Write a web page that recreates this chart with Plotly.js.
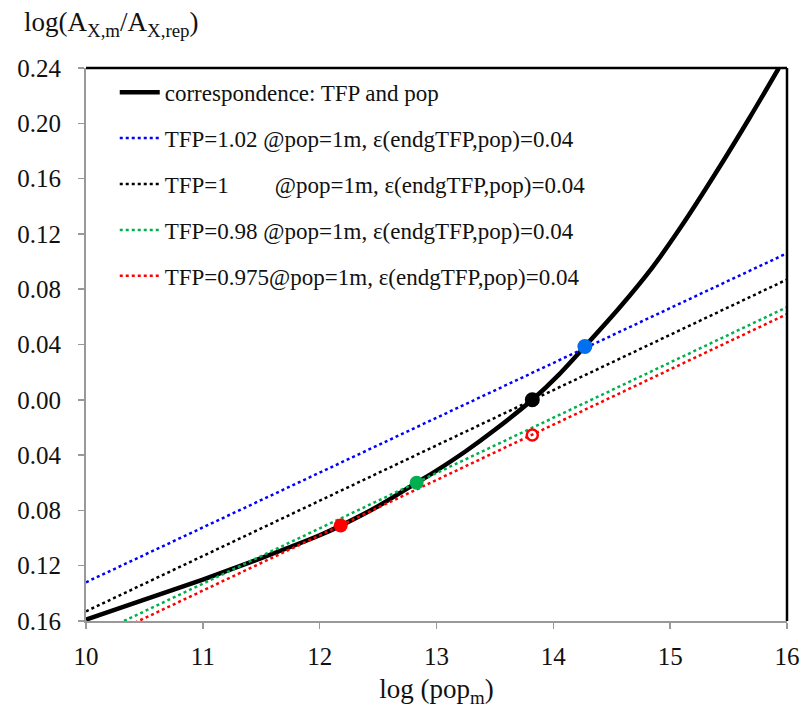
<!DOCTYPE html>
<html>
<head>
<meta charset="utf-8">
<script src="https://cdn.plot.ly/plotly-3.0.1.min.js"></script>
<style>
html,body{margin:0;padding:0;background:#fff;}
#chart{width:804px;height:719px;}
</style>
</head>
<body>
<div id="chart"></div>
<script>
// Correspondence curve: TFP and pop
const curveX = [10, 10.5, 11, 11.5, 12, 12.18, 12.5, 12.83, 13.0, 13.25, 13.5, 13.82, 14.05, 14.27, 14.56, 14.85, 15.1, 15.39, 15.68, 15.93];
const curveY = [-0.159, -0.1445, -0.130, -0.1145, -0.098, -0.091, -0.077, -0.060, -0.0512, -0.0372, -0.0217, 0.000, 0.0184, 0.0386, 0.066, 0.096, 0.126, 0.164, 0.204, 0.240];

// Straight dotted lines (endpoints read at x=10 and x=16)
const lineX = [10, 16];
const blueY = [-0.132, 0.106];
const blackY = [-0.153, 0.087];
const greenY = [-0.173, 0.067];
const redY = [-0.178, 0.062];

// Highlighted points
const bluePt = {x: [14.27], y: [0.0386]};
const blackPt = {x: [13.82], y: [0.000]};
const greenPt = {x: [12.83], y: [-0.060]};
const redPt = {x: [12.18], y: [-0.091]};
const redOpenPt = {x: [13.82], y: [-0.0255]};

const legendNames = [
  'correspondence: TFP and pop',
  'TFP=1.02 @pop=1m, \u03b5(endgTFP,pop)=0.04',
  'TFP=1&nbsp;&nbsp;&nbsp;&nbsp;&nbsp;&nbsp;&nbsp; @pop=1m, \u03b5(endgTFP,pop)=0.04',
  'TFP=0.98 @pop=1m, \u03b5(endgTFP,pop)=0.04',
  'TFP=0.975@pop=1m, \u03b5(endgTFP,pop)=0.04'
];

const yTickVals = [-0.16, -0.12, -0.08, -0.04, 0.00, 0.04, 0.08, 0.12, 0.16, 0.20, 0.24];
const yTickText = yTickVals.map(v => Math.abs(v).toFixed(2));
const xTickVals = [10, 11, 12, 13, 14, 15, 16];

const FONT = 'Liberation Serif';

const traces = [
  {x: curveX, y: curveY, mode: 'lines', name: legendNames[0], legendgroup: 'a',
   line: {color: '#000', width: 4.5, shape: 'spline', smoothing: 0.8}},
  {x: lineX, y: blueY, mode: 'lines', name: legendNames[1], legendgroup: 'b',
   line: {color: '#0000FF', width: 2.5, dash: 'dot'}},
  {x: lineX, y: blackY, mode: 'lines', name: legendNames[2], legendgroup: 'c',
   line: {color: '#000000', width: 2.5, dash: 'dot'}},
  {x: lineX, y: greenY, mode: 'lines', name: legendNames[3], legendgroup: 'd',
   line: {color: '#00B050', width: 2.5, dash: 'dot'}},
  {x: lineX, y: redY, mode: 'lines', name: legendNames[4], legendgroup: 'e',
   line: {color: '#FF0000', width: 2.5, dash: 'dot'}},
  {x: bluePt.x, y: bluePt.y, mode: 'markers', showlegend: false,
   marker: {color: '#0070F0', size: 15}},
  {x: blackPt.x, y: blackPt.y, mode: 'markers', showlegend: false,
   marker: {color: '#000', size: 15}},
  {x: greenPt.x, y: greenPt.y, mode: 'markers', showlegend: false,
   marker: {color: '#00B050', size: 14}},
  {x: redPt.x, y: redPt.y, mode: 'markers', showlegend: false,
   marker: {color: '#FF0000', size: 14}},
  {x: redOpenPt.x, y: redOpenPt.y, mode: 'markers', showlegend: false,
   marker: {color: 'rgba(0,0,0,0)', size: 11, line: {color: '#FF0000', width: 2.5}}}
];

const layout = {
  width: 804, height: 719,
  margin: {l: 86, r: 17, t: 68, b: 98},
  paper_bgcolor: '#fff', plot_bgcolor: '#fff',
  font: {family: FONT, color: '#111', size: 22},
  showlegend: true,
  legend: {
    x: 0.041, y: 0.995, xanchor: 'left', yanchor: 'top',
    bgcolor: 'rgba(255,255,255,0)', borderwidth: 0,
    font: {family: FONT, size: 23, color: '#111'},
    traceorder: 'grouped', tracegroupgap: 13, itemwidth: 40
  },
  xaxis: {
    range: [10, 16], tickvals: xTickVals, ticktext: xTickVals.map(String),
    showgrid: false, zeroline: false,
    showline: true, linecolor: '#999', linewidth: 2,
    ticks: 'outside', ticklen: 6, tickcolor: '#999', tickwidth: 1.5,
    ticklabelstandoff: 6,
    tickfont: {family: FONT, size: 25, color: '#111'},
    title: {text: 'log (pop<sub>m</sub>)', font: {family: FONT, size: 27, color: '#111'}, standoff: 10}
  },
  yaxis: {
    range: [-0.16, 0.24], tickvals: yTickVals, ticktext: yTickText,
    showgrid: false, zeroline: false,
    showline: true, linecolor: '#999', linewidth: 2,
    ticks: 'outside', ticklen: 6, tickcolor: '#999', tickwidth: 1.5,
    ticklabelstandoff: 12,
    tickfont: {family: FONT, size: 25, color: '#111'}
  },
  shapes: [
    {type: 'line', xref: 'paper', yref: 'paper', x0: 0, x1: 1, y0: 1, y1: 1, line: {color: '#000', width: 2.5}},
    {type: 'line', xref: 'paper', yref: 'paper', x0: 1, x1: 1, y0: 0, y1: 1, line: {color: '#000', width: 2.5}}
  ],
  annotations: [
    {xref: 'paper', yref: 'paper', x: -0.092, y: 1.08, xanchor: 'left', yanchor: 'middle', showarrow: false,
     text: 'log(A<sub>X,m</sub>/A<sub>X,rep</sub>)', font: {family: FONT, size: 27, color: '#111'}}
  ]
};

Plotly.newPlot('chart', traces, layout, {displayModeBar: false, staticPlot: true});
</script>
</body>
</html>
